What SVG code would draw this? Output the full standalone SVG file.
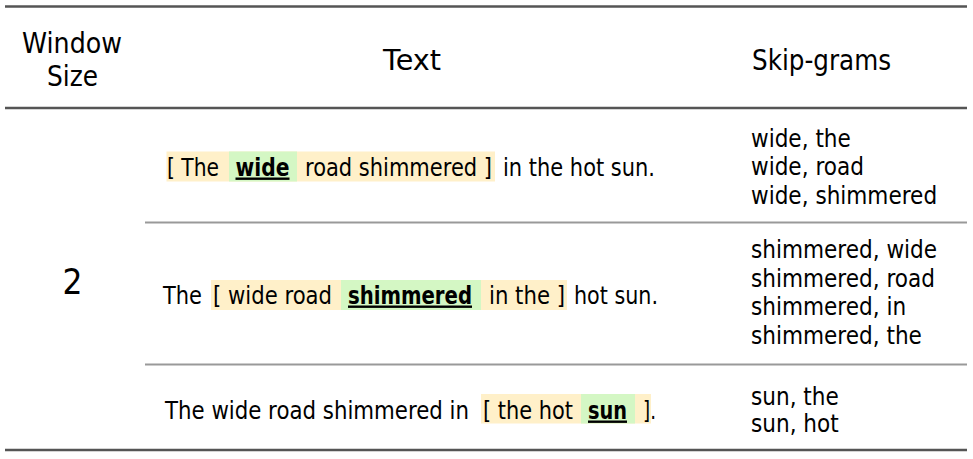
<svg xmlns="http://www.w3.org/2000/svg" width="973" height="459" viewBox="0 0 973 459">
<style>
  text { font-family: "DejaVu Sans", "Liberation Sans", sans-serif; fill: #000; }
  .hd { font-size: 28px; }
  .bd { font-size: 24px; }
  .kw { font-size: 24px; font-weight: bold; text-decoration: underline; }
  .big { font-size: 36px; }
  .rule { stroke: #555; stroke-width: 2.5; }
  .sep { stroke: #999; stroke-width: 2; }
  .win { fill: #FFF0C9; }
  .ctr { fill: #D4F7C4; }
</style>
<rect width="973" height="459" fill="#fff"/>
<g id="rules">
  <line class="rule" x1="5" y1="6.5" x2="967" y2="6.5"/>
  <line class="rule" x1="5" y1="108" x2="967" y2="108"/>
  <line class="sep" x1="145" y1="222.5" x2="967" y2="222.5"/>
  <line class="sep" x1="145" y1="364.5" x2="967" y2="364.5"/>
  <line class="rule" x1="5" y1="450" x2="967" y2="450"/>
</g>
<g id="header">
  <text class="hd" x="72" y="53" text-anchor="middle" textLength="100" lengthAdjust="spacingAndGlyphs">Window</text>
  <text class="hd" x="72.5" y="86" text-anchor="middle" textLength="51" lengthAdjust="spacingAndGlyphs">Size</text>
  <text class="hd" x="383" y="70" textLength="58" lengthAdjust="spacingAndGlyphs">Text</text>
  <text class="hd" x="752" y="70" textLength="139" lengthAdjust="spacingAndGlyphs">Skip-grams</text>
</g>
<g id="window-size">
  <text class="big" x="72.5" y="294" text-anchor="middle" textLength="20" lengthAdjust="spacingAndGlyphs">2</text>
</g>
<g id="row1">
  <rect class="win" x="166.5" y="151.5" width="328.5" height="30"/>
  <rect class="ctr" x="229" y="151.5" width="68" height="30"/>
  <text class="bd" x="167" y="175.5" textLength="52" lengthAdjust="spacingAndGlyphs">[ The</text>
  <text class="kw" x="235.5" y="175.5" textLength="54" lengthAdjust="spacingAndGlyphs">wide</text>
  <text class="bd" x="305" y="175.5" textLength="187" lengthAdjust="spacingAndGlyphs">road shimmered ]</text>
  <text class="bd" x="503" y="175.5" textLength="152" lengthAdjust="spacingAndGlyphs">in the hot sun.</text>
  <g transform="translate(751,0) scale(0.9,1)">
    <text class="bd" x="0" y="147">wide, the</text>
    <text class="bd" x="0" y="175.5">wide, road</text>
    <text class="bd" x="0" y="204">wide, shimmered</text>
  </g>
</g>
<g id="row2">
  <rect class="win" x="211" y="280" width="356" height="30"/>
  <rect class="ctr" x="341" y="280" width="140" height="30"/>
  <text class="bd" x="163" y="303.5" textLength="39" lengthAdjust="spacingAndGlyphs">The</text>
  <text class="bd" x="213" y="303.5" textLength="119" lengthAdjust="spacingAndGlyphs">[ wide road</text>
  <text class="kw" x="348" y="303.5" textLength="124" lengthAdjust="spacingAndGlyphs">shimmered</text>
  <text class="bd" x="489" y="303.5" textLength="76" lengthAdjust="spacingAndGlyphs">in the ]</text>
  <text class="bd" x="574" y="303.5" textLength="84" lengthAdjust="spacingAndGlyphs">hot sun.</text>
  <g transform="translate(751,0) scale(0.9,1)">
    <text class="bd" x="0" y="258.5">shimmered, wide</text>
    <text class="bd" x="0" y="287">shimmered, road</text>
    <text class="bd" x="0" y="315.5">shimmered, in</text>
    <text class="bd" x="0" y="344">shimmered, the</text>
  </g>
</g>
<g id="row3">
  <rect class="win" x="481" y="394" width="170" height="29.5"/>
  <rect class="ctr" x="581" y="394" width="54" height="29.5"/>
  <text class="bd" x="165" y="418.5" textLength="304" lengthAdjust="spacingAndGlyphs">The wide road shimmered in</text>
  <text class="bd" x="483" y="418.5" textLength="90" lengthAdjust="spacingAndGlyphs">[ the hot</text>
  <text class="kw" x="588" y="418.5" textLength="39" lengthAdjust="spacingAndGlyphs">sun</text>
  <text class="bd" x="643" y="418.5" textLength="13" lengthAdjust="spacingAndGlyphs">].</text>
  <g transform="translate(751,0) scale(0.9,1)">
    <text class="bd" x="0" y="405">sun, the</text>
    <text class="bd" x="0" y="432.5">sun, hot</text>
  </g>
</g>
</svg>
